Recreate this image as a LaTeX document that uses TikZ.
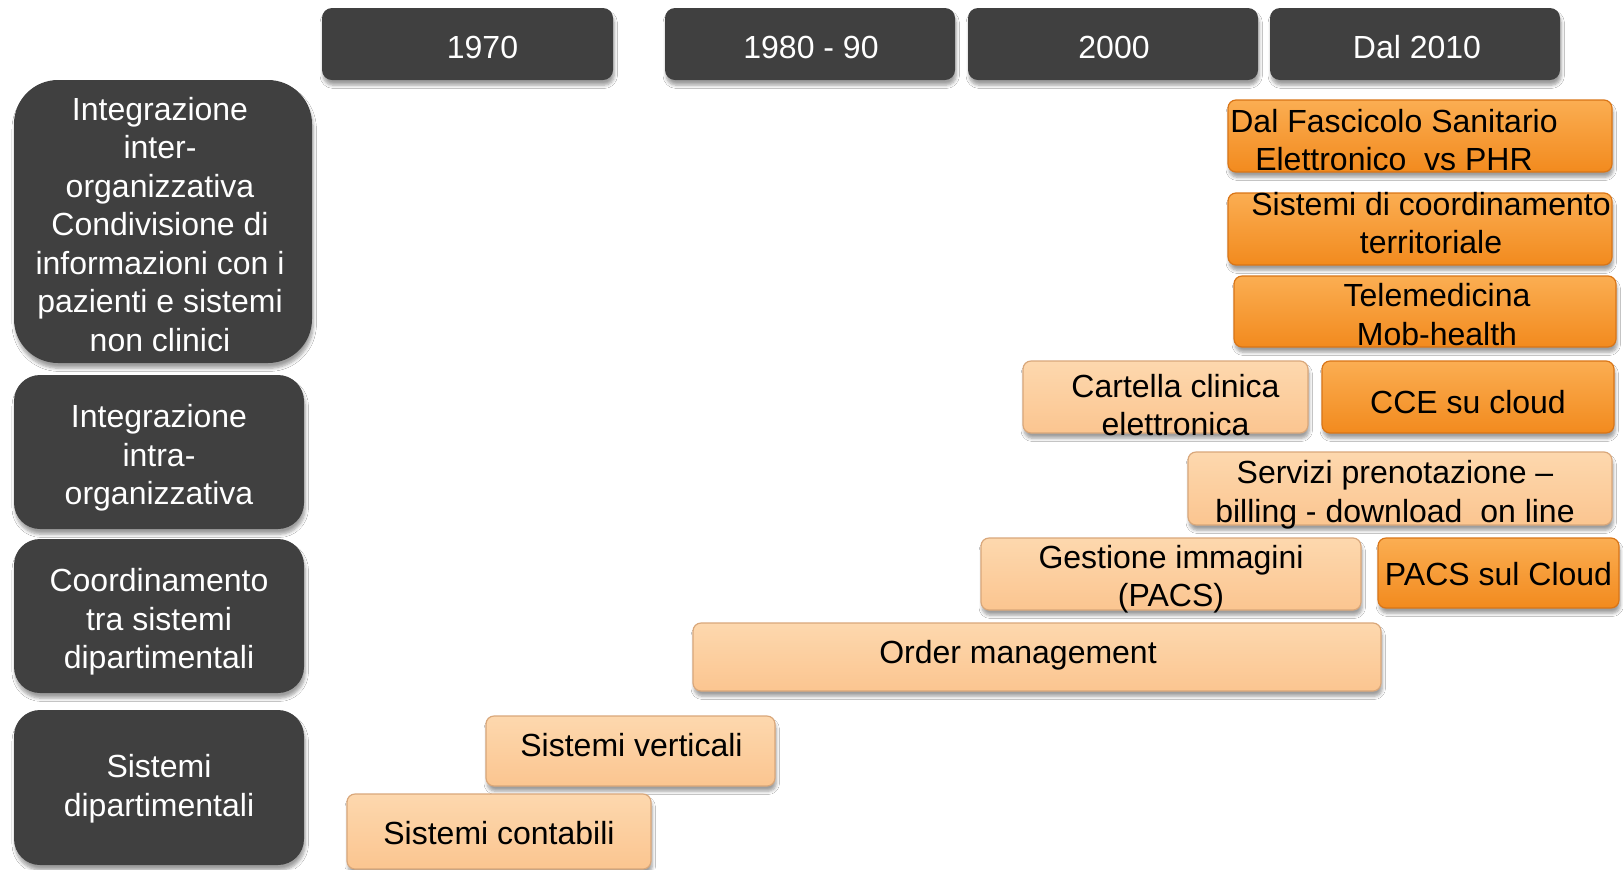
\documentclass[tikz,border=0pt]{standalone}
\usepackage{fontspec}
\setmainfont{Liberation Sans}
\usetikzlibrary{fit,calc,shadows.blur}

\definecolor{darkbox}{HTML}{404040}
\definecolor{orTop}{HTML}{FBAE52}
\definecolor{orBot}{HTML}{F28A1E}
\definecolor{orLine}{HTML}{D97517}
\definecolor{peTop}{HTML}{FDD8AE}
\definecolor{peBot}{HTML}{FBC590}
\definecolor{peLine}{HTML}{D9A77A}

\tikzset{
  x=0.5pt, y=-0.5pt,
  every node/.style={font=\fontsize{16}{19.25}\selectfont, inner sep=0pt},
  boxbase/.style={inner sep=0pt,
    blur shadow={shadow xshift=0.6pt, shadow yshift=-2.6pt,
      shadow blur steps=6, shadow opacity=38, shadow blur radius=1.6pt}},
  yearbox/.style={boxbase, fill=darkbox, rounded corners=5pt},
  rowbox/.style={boxbase, fill=darkbox, rounded corners=13pt},
  newbox/.style={boxbase, top color=orTop, bottom color=orBot, draw=orLine,
    line width=0.6pt, rounded corners=4pt},
  oldbox/.style={boxbase, top color=peTop, bottom color=peBot, draw=peLine,
    line width=0.6pt, rounded corners=4pt},
  lighttxt/.style={text=white, align=center},
  darktxt/.style={text=black, align=center},
}

\begin{document}
\begin{tikzpicture}
\useasboundingbox[fill=white] (0,0) rectangle (1623,869);

% time axis
\node[yearbox, fit={(322,8) (613,80)}]   (y70) {};
\node[yearbox, fit={(665,8) (955,80)}]   (y80) {};
\node[yearbox, fit={(968,8) (1258,80)}]  (y00) {};
\node[yearbox, fit={(1270,8) (1560,80)}] (y10) {};
\node[lighttxt] (ty70) at ($(y70.center)+(15,3)$) {1970};
\node[lighttxt] (ty80) at ($(y80.center)+(1,3)$)  {1980 - 90};
\node[lighttxt] (ty00) at ($(y00.center)+(1,3)$)  {2000};
\node[lighttxt] (ty10) at ($(y10.center)+(2,3)$)  {Dal 2010};

% integration levels
\node[rowbox, rounded corners=22pt, fit={(14,80) (312,363)}] (lev4) {};
\node[rowbox, fit={(14,375) (304,529)}] (lev3) {};
\node[rowbox, fit={(14,539) (304,693)}] (lev2) {};
\node[rowbox, fit={(14,710) (304,865)}] (lev1) {};
\node[lighttxt] (tlev4) at ($(lev4.center)+(-3,3)$)
  {Integrazione\\inter-\\organizzativa\\Condivisione di\\informazioni con i\\pazienti e sistemi\\non clinici};
\node[lighttxt] (tlev3) at ($(lev3.center)+(0,6)$) {Integrazione\\intra-\\organizzativa};
\node[lighttxt] (tlev2) at ($(lev2.center)+(0,6)$) {Coordinamento\\tra sistemi\\dipartimentali};
\node[lighttxt] (tlev1) at ($(lev1.center)+(0,1)$) {Sistemi\\dipartimentali};

% systems
\node[newbox, fit={(1228,100) (1612,172)}] (fse)    {};
\node[newbox, fit={(1228,193) (1612,265)}] (coord)  {};
\node[newbox, fit={(1234,276) (1616,347)}] (tele)   {};
\node[oldbox, fit={(1023,361) (1308,433)}] (cart)   {};
\node[newbox, fit={(1322,361) (1614,433)}] (cce)    {};
\node[oldbox, fit={(1188,452) (1612,525)}] (serv)   {};
\node[oldbox, fit={(981,538) (1361,610)}]  (pacs)   {};
\node[newbox, fit={(1378,538) (1619,608)}] (pcloud) {};
\node[oldbox, fit={(693,623) (1381,691)}]  (order)  {};
\node[oldbox, fit={(486,716) (775,786)}]   (vert)   {};
\node[oldbox, fit={(347,794) (651,869)}]   (cont)   {};

% labels of the systems
\node[darktxt] (tfse)    at ($(fse.center)+(-26,4)$)    {Dal Fascicolo Sanitario\\Elettronico\ \ vs PHR};
\node[darktxt] (tcoord)  at ($(coord.center)+(11,-6)$)  {Sistemi di coordinamento\\territoriale};
\node[darktxt] (ttele)   at ($(tele.center)+(12,3)$)    {Telemedicina\\Mob-health};
\node[darktxt] (tcart)   at ($(cart.center)+(10,8)$)    {Cartella clinica\\elettronica};
\node[darktxt] (tcce)    at ($(cce.center)+(0,5)$)      {CCE su cloud};
\node[darktxt] (tserv)   at ($(serv.center)+(-5,6)$)    {Servizi prenotazione –\\billing - download\ \ on line};
\node[darktxt] (tpacs)   at ($(pacs.center)+(0,5)$)     {Gestione immagini\\(PACS)};
\node[darktxt] (tpcloud) at ($(pcloud.center)+(0,1)$)   {PACS sul Cloud};
\node[darktxt] (torder)  at ($(order.center)+(-19,-2)$) {Order management};
\node[darktxt] (tvert)   at ($(vert.center)+(1,-6)$)    {Sistemi verticali};
\node[darktxt] (tcont)   at ($(cont.center)+(0,2)$)     {Sistemi contabili};
\end{tikzpicture}
\end{document}
